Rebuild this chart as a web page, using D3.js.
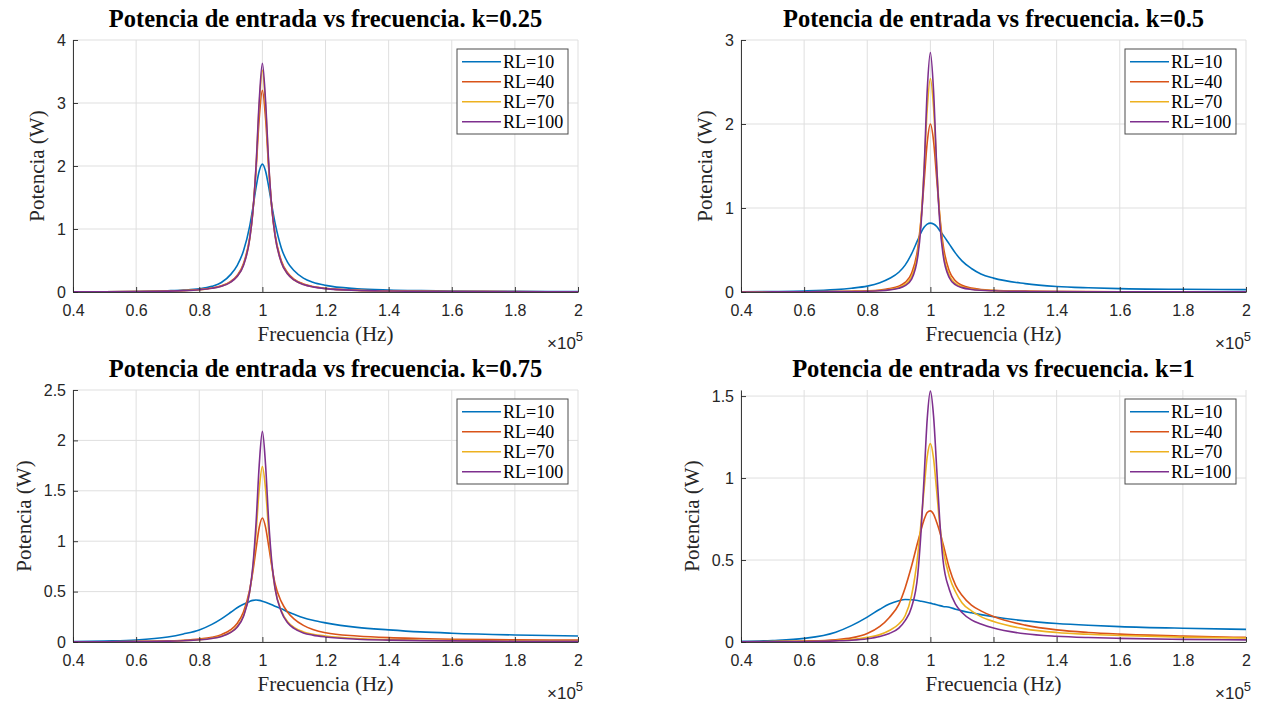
<!DOCTYPE html>
<html>
<head>
<meta charset="utf-8">
<script src="https://cdn.jsdelivr.net/npm/d3@7"></script>
<style>
  body { margin: 0; background: #fff; }
  svg { display: block; }
</style>
</head>
<body>
<script>
// frequency in units of 1e5 Hz
const freq = [0.4, 0.5, 0.6, 0.7, 0.75, 0.8, 0.84, 0.87, 0.9, 0.92, 0.94, 0.96, 0.97, 0.98, 0.99, 1.0,
  1.01, 1.02, 1.03, 1.04, 1.06, 1.08, 1.1, 1.13, 1.16, 1.2, 1.3, 1.4, 1.5, 1.6, 1.8, 2.0];

const seriesNames = ["RL=10", "RL=40", "RL=70", "RL=100"];
const seriesColors = ["#0072BD", "#D95319", "#EDB120", "#7E2F8E"];

// k = 0.25
const k025_rl10 = [0.003, 0.005, 0.009, 0.02, 0.03, 0.05, 0.09, 0.15, 0.28, 0.42, 0.65, 1.05, 1.34, 1.66, 1.92, 2.03,
  1.92, 1.67, 1.37, 1.10, 0.70, 0.47, 0.34, 0.22, 0.155, 0.105, 0.052, 0.032, 0.022, 0.016, 0.01, 0.007];
const k025_rl40 = [0.0018, 0.0036, 0.007, 0.015, 0.023, 0.039, 0.064, 0.099, 0.17, 0.263, 0.449, 0.872, 1.288, 1.936, 2.755, 3.2,
  2.762, 1.967, 1.335, 0.923, 0.497, 0.305, 0.205, 0.128, 0.088, 0.058, 0.028, 0.017, 0.0115, 0.0084, 0.0052, 0.0036];
const k025_rl70 = [0.0017, 0.0033, 0.0065, 0.014, 0.022, 0.036, 0.06, 0.093, 0.16, 0.248, 0.427, 0.847, 1.279, 1.987, 2.956, 3.52,
  2.965, 2.022, 1.328, 0.9, 0.474, 0.288, 0.193, 0.12, 0.082, 0.0545, 0.026, 0.016, 0.011, 0.0078, 0.0048, 0.0033];
const k025_rl100 = [0.0017, 0.0033, 0.0064, 0.0138, 0.0215, 0.036, 0.059, 0.092, 0.158, 0.245, 0.42, 0.845, 1.28, 2.01, 3.03, 3.63,
  3.04, 2.05, 1.33, 0.9, 0.47, 0.286, 0.191, 0.119, 0.081, 0.054, 0.026, 0.0156, 0.0106, 0.0077, 0.0047, 0.0033];

// k = 0.5
const k05_rl10 = [0.003, 0.006, 0.012, 0.028, 0.045, 0.07, 0.11, 0.16, 0.235, 0.32, 0.45, 0.62, 0.705, 0.77, 0.808, 0.82,
  0.81, 0.78, 0.73, 0.68, 0.57, 0.46, 0.37, 0.28, 0.215, 0.165, 0.1, 0.066, 0.05, 0.04, 0.032, 0.028];
const k05_rl40 = [0.0008, 0.0016, 0.003, 0.006, 0.009, 0.014, 0.024, 0.04, 0.07, 0.115, 0.22, 0.52, 0.85, 1.3, 1.78, 2.0,
  1.8, 1.35, 0.9, 0.57, 0.25, 0.13, 0.08, 0.046, 0.03, 0.02, 0.01, 0.0065, 0.0045, 0.0035, 0.0025, 0.002];
const k05_rl70 = [0.0006, 0.0012, 0.0025, 0.005, 0.007, 0.011, 0.018, 0.03, 0.055, 0.09, 0.18, 0.47, 0.84, 1.45, 2.18, 2.54,
  2.2, 1.5, 0.88, 0.5, 0.2, 0.1, 0.062, 0.036, 0.024, 0.016, 0.008, 0.005, 0.0035, 0.0028, 0.002, 0.0015];
const k05_rl100 = [0.0005, 0.001, 0.002, 0.004, 0.006, 0.009, 0.015, 0.025, 0.045, 0.075, 0.15, 0.42, 0.78, 1.45, 2.4, 2.85,
  2.4, 1.5, 0.82, 0.45, 0.17, 0.085, 0.052, 0.03, 0.02, 0.014, 0.007, 0.0045, 0.003, 0.0025, 0.0018, 0.0013];

// k = 0.75
const k075_rl10 = [0.004, 0.01, 0.02, 0.05, 0.08, 0.12, 0.175, 0.23, 0.295, 0.34, 0.375, 0.403, 0.413, 0.417, 0.413, 0.405,
  0.395, 0.383, 0.37, 0.355, 0.33, 0.3, 0.275, 0.24, 0.215, 0.19, 0.145, 0.12, 0.1, 0.087, 0.07, 0.06];
const k075_rl40 = [0.0014, 0.0027, 0.0053, 0.011, 0.017, 0.029, 0.047, 0.073, 0.122, 0.184, 0.298, 0.521, 0.7, 0.923, 1.136, 1.23,
  1.14, 0.95, 0.75, 0.58, 0.4, 0.295, 0.23, 0.165, 0.125, 0.092, 0.06, 0.043, 0.034, 0.027, 0.022, 0.019];
const k075_rl70 = [0.0011, 0.0021, 0.0041, 0.0088, 0.0137, 0.0229, 0.0375, 0.0583, 0.0995, 0.154, 0.261, 0.502, 0.734, 1.085, 1.514, 1.74,
  1.518, 1.101, 0.759, 0.531, 0.31, 0.2, 0.145, 0.1, 0.077, 0.06, 0.035, 0.024, 0.018, 0.014, 0.011, 0.009];
const k075_rl100 = [0.001, 0.002, 0.0039, 0.0083, 0.0129, 0.0216, 0.0354, 0.0551, 0.0947, 0.147, 0.253, 0.503, 0.759, 1.18, 1.755, 2.09,
  1.761, 1.2, 0.788, 0.534, 0.3, 0.19, 0.135, 0.09, 0.068, 0.05, 0.028, 0.019, 0.014, 0.011, 0.008, 0.006];

// k = 1
const k1_rl10 = [0.004, 0.009, 0.022, 0.06, 0.1, 0.152, 0.2, 0.232, 0.252, 0.259, 0.258, 0.253, 0.249, 0.245, 0.241, 0.237,
  0.232, 0.227, 0.222, 0.217, 0.212, 0.2, 0.19, 0.178, 0.167, 0.154, 0.129, 0.113, 0.102, 0.094, 0.084, 0.077];
const k1_rl40 = [0.001, 0.003, 0.006, 0.014, 0.025, 0.052, 0.095, 0.15, 0.23, 0.33, 0.46, 0.61, 0.68, 0.745, 0.79, 0.8,
  0.78, 0.73, 0.67, 0.6, 0.45, 0.345, 0.285, 0.225, 0.19, 0.155, 0.103, 0.074, 0.058, 0.048, 0.036, 0.028];
const k1_rl70 = [0.0008, 0.002, 0.004, 0.009, 0.015, 0.028, 0.045, 0.07, 0.11, 0.16, 0.28, 0.53, 0.72, 0.93, 1.13, 1.21,
  1.12, 0.92, 0.71, 0.57, 0.4, 0.305, 0.24, 0.19, 0.155, 0.125, 0.08, 0.058, 0.047, 0.04, 0.03, 0.024];
const k1_rl100 = [0.0006, 0.0015, 0.003, 0.007, 0.011, 0.02, 0.034, 0.052, 0.085, 0.13, 0.21, 0.41, 0.66, 1.0, 1.36, 1.53,
  1.38, 1.06, 0.73, 0.5, 0.32, 0.23, 0.18, 0.135, 0.11, 0.085, 0.05, 0.035, 0.027, 0.022, 0.016, 0.013];

const kLabels = ["0.25", "0.5", "0.75", "1"];
const yMaxes = [4, 3, 2.5, 1.537];
const yTickSteps = [1, 1, 0.5, 0.5];
const xTicks = [0.4, 0.6, 0.8, 1, 1.2, 1.4, 1.6, 1.8, 2];

const panelSeries = [
  [k025_rl10, k025_rl40, k025_rl70, k025_rl100],
  [k05_rl10, k05_rl40, k05_rl70, k05_rl100],
  [k075_rl10, k075_rl40, k075_rl70, k075_rl100],
  [k1_rl10, k1_rl40, k1_rl70, k1_rl100]
];

const W = 1268, H = 702;
const plotW = 505, plotH = 252;
const lefts = [73, 741], tops = [40, 390];
const serif = "'Liberation Serif', 'Times New Roman', serif";
const sans = "'Liberation Sans', Arial, Helvetica, sans-serif";
const axisColor = "#262626";

const svg = d3.select("body").append("svg")
    .attr("width", W)
    .attr("height", H);

panelSeries.forEach(function (series, p) {
    const left = lefts[p % 2];
    const top = tops[Math.floor(p / 2)];
    const bottom = top + plotH;
    const right = left + plotW;

    const x = d3.scaleLinear().domain([0.4, 2]).range([left, right]);
    const y = d3.scaleLinear().domain([0, yMaxes[p]]).range([bottom, top]);
    const yTicks = d3.range(0, yMaxes[p] + 1e-9, yTickSteps[p]);

    const g = svg.append("g");

    // grid
    g.append("g").selectAll("line").data(xTicks).join("line")
        .attr("x1", d => x(d)).attr("x2", d => x(d))
        .attr("y1", top).attr("y2", bottom)
        .attr("stroke", "#dfdfdf").attr("stroke-width", 1);
    g.append("g").selectAll("line").data(yTicks).join("line")
        .attr("x1", left).attr("x2", right)
        .attr("y1", d => y(d)).attr("y2", d => y(d))
        .attr("stroke", "#dfdfdf").attr("stroke-width", 1);

    // clip for curves
    const clipId = "clip" + p;
    svg.append("clipPath").attr("id", clipId)
        .append("rect").attr("x", left).attr("y", top - 2).attr("width", plotW).attr("height", plotH + 2);

    const line = d3.line()
        .x((d, i) => x(freq[i]))
        .y(d => y(d))
        .curve(d3.curveMonotoneX);

    g.append("g").attr("clip-path", "url(#" + clipId + ")")
        .selectAll("path").data(series).join("path")
        .attr("d", d => line(d))
        .attr("fill", "none")
        .attr("stroke", (d, i) => seriesColors[i])
        .attr("stroke-width", 1.6)
        .attr("stroke-linejoin", "round");

    // axes
    const xAxis = g.append("g")
        .attr("transform", "translate(0," + bottom + ")")
        .call(d3.axisBottom(x).tickValues(xTicks).tickSizeInner(-5).tickSizeOuter(0)
            .tickPadding(13).tickFormat(d3.format("~g")));
    const yAxis = g.append("g")
        .attr("transform", "translate(" + left + ",0)")
        .call(d3.axisLeft(y).tickValues(yTicks).tickSizeInner(-5).tickSizeOuter(0)
            .tickPadding(7).tickFormat(d3.format("~g")));

    [xAxis, yAxis].forEach(a => {
        a.select(".domain").attr("stroke", axisColor).attr("stroke-width", 0.9);
        a.selectAll(".tick line").attr("stroke", axisColor).attr("stroke-width", 0.9);
        a.selectAll(".tick text").attr("fill", axisColor)
            .style("font-family", sans).style("font-size", "16px");
    });

    // y label position from widest tick label
    let maxW = 0;
    yAxis.selectAll(".tick text").each(function () {
        maxW = Math.max(maxW, this.getComputedTextLength());
    });
    const yLabX = left - 7 - maxW - 13;

    g.append("text")
        .attr("transform", "translate(" + yLabX + "," + (top + plotH / 2) + ") rotate(-90)")
        .attr("text-anchor", "middle")
        .style("font-family", serif).style("font-size", "21px").attr("fill", axisColor)
        .text("Potencia (W)");

    g.append("text")
        .attr("x", (left + right) / 2).attr("y", bottom + 49)
        .attr("text-anchor", "middle")
        .style("font-family", serif).style("font-size", "21px").attr("fill", axisColor)
        .text("Frecuencia (Hz)");

    // exponent label
    const expo = g.append("text")
        .attr("x", right - 31).attr("y", bottom + 57)
        .style("font-family", sans).style("font-size", "17px").attr("fill", axisColor);
    expo.append("tspan").text("\u00d710");
    expo.append("tspan").attr("dy", -8).style("font-size", "13px").text("5");

    // title
    g.append("text")
        .attr("x", (left + right) / 2).attr("y", top - 13)
        .attr("text-anchor", "middle")
        .style("font-family", serif).style("font-size", "24.5px").style("font-weight", "bold")
        .attr("fill", "#000")
        .text("Potencia de entrada vs frecuencia. k=" + kLabels[p]);

    // legend
    const lgW = 111, lgH = 85;
    const lgX = right - 10 - lgW, lgY = top + 9;
    const lg = g.append("g");
    lg.append("rect")
        .attr("x", lgX).attr("y", lgY).attr("width", lgW).attr("height", lgH)
        .attr("fill", "#fff").attr("stroke", "#4d4d4d").attr("stroke-width", 1);
    seriesNames.forEach(function (name, i) {
        const cy = lgY + 12.7 + i * 20;
        lg.append("line")
            .attr("x1", lgX + 5).attr("x2", lgX + 44)
            .attr("y1", cy).attr("y2", cy)
            .attr("stroke", seriesColors[i]).attr("stroke-width", 1.6);
        lg.append("text")
            .attr("x", lgX + 46).attr("y", cy).attr("dy", "0.35em")
            .style("font-family", serif).style("font-size", "18px").attr("fill", "#000")
            .text(name);
    });
});
</script>
</body>
</html>
